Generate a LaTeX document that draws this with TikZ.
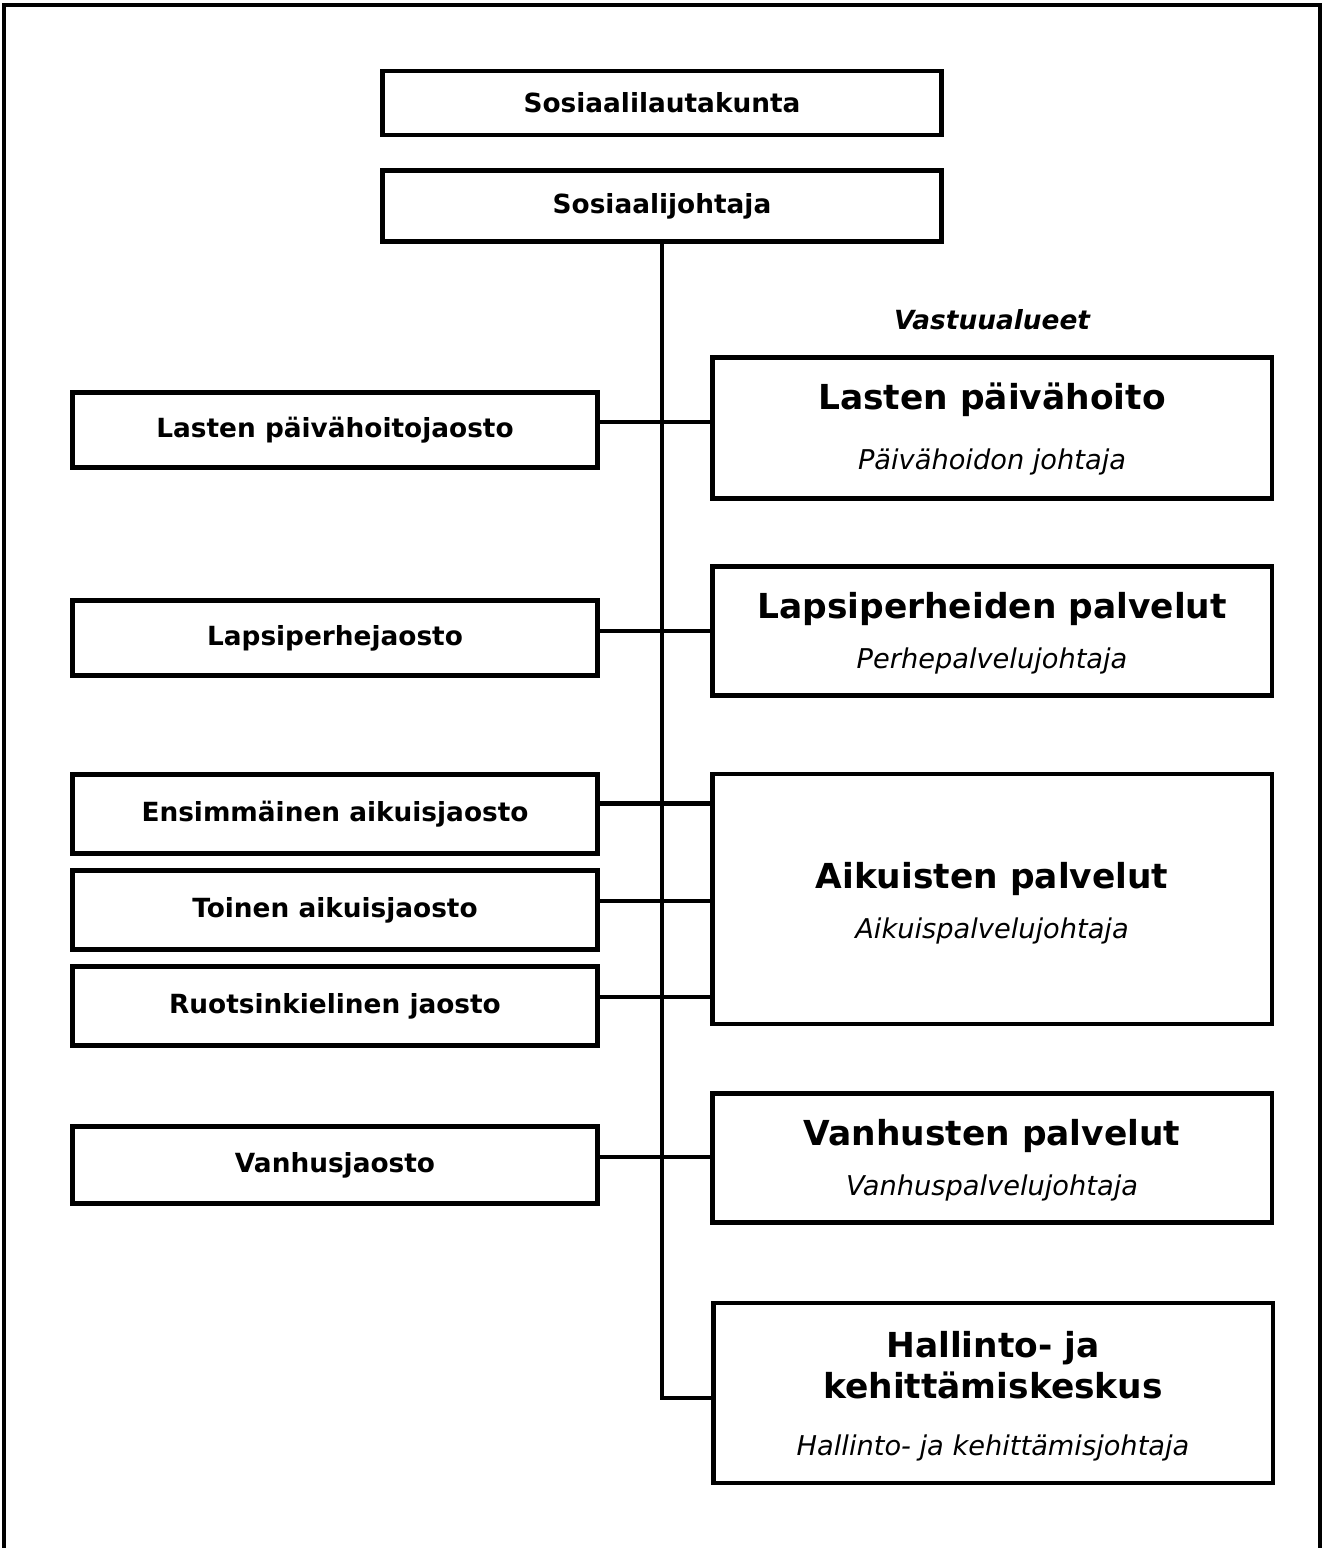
\documentclass[tikz,border=0pt]{standalone}
\usepackage{fontspec}
\setmainfont{DejaVu Sans}
\usetikzlibrary{positioning,calc}

\begin{document}
\begin{tikzpicture}[x=0.02cm,y=-0.02cm,
	box/.style={draw, rectangle, line width=2.8pt, minimum width=10.5cm, minimum height=1.5cm, inner sep=0pt, align=center, font=\fontsize{15}{18}\selectfont\bfseries},
	topbox/.style={box, minimum width=11.2cm},
	areabox/.style={draw, rectangle, line width=2.8pt, minimum width=11.2cm, inner sep=0pt},
	title/.style={align=center, font=\fontsize{19.6}{23.5}\selectfont\bfseries},
	sub/.style={font=\fontsize{15.5}{18}\selectfont\itshape},
	conn/.style={line width=2.4pt}]
	\useasboundingbox (0,0) rectangle (1324,1548);
	\draw[line width=2.8pt] (4,1600) -- (4,5) -- (1320,5) -- (1320,1600);

	% top of the organisation
	\node[topbox, minimum height=1.28cm] (lautakunta) at (662,103) {Sosiaalilautakunta};
	\node[topbox, minimum height=1.42cm] (johtaja) at (662,206) {Sosiaalijohtaja};
	\node[font=\fontsize{15}{18}\selectfont\bfseries\itshape] (vastuu) at (992,320) {Vastuualueet};

	% vastuualueet
	\node[areabox, minimum height=2.82cm] (paiva) at (992,428) {};
	\node[title] (paivaT) at (992,400) {Lasten päivähoito};
	\node[sub] (paivaS) at (992,462) {Päivähoidon johtaja};

	\node[areabox, minimum height=2.58cm] (perhe) at (992,631) {};
	\node[title] (perheT) at (992,609) {Lapsiperheiden palvelut};
	\node[sub] (perheS) at (992,661) {Perhepalvelujohtaja};

	\node[areabox, minimum height=5cm] (aikuis) at (992,899) {};
	\node[title] (aikuisT) at (992,879) {Aikuisten palvelut};
	\node[sub] (aikuisS) at (992,931) {Aikuispalvelujohtaja};

	\node[areabox, minimum height=2.58cm] (vanhus) at (992,1158) {};
	\node[title] (vanhusT) at (992,1136) {Vanhusten palvelut};
	\node[sub] (vanhusS) at (992,1188) {Vanhuspalvelujohtaja};

	\node[areabox, minimum height=3.6cm] (hallinto) at (993,1393) {};
	\node[title] (hallintoT) at (993,1365) {Hallinto- ja\\kehittämiskeskus};
	\node[sub] (hallintoS) at (993,1448) {Hallinto- ja kehittämisjohtaja};

	% jaostot
	\node[box] (lpj) at (335,430) {Lasten päivähoitojaosto};
	\node[box] (lapsi) at (335,638) {Lapsiperhejaosto};
	\node[box, minimum height=1.58cm] (ens) at (335,814) {Ensimmäinen aikuisjaosto};
	\node[box, minimum height=1.58cm] (toinen) at (335,910) {Toinen aikuisjaosto};
	\node[box, minimum height=1.58cm] (ruotsi) at (335,1006) {Ruotsinkielinen jaosto};
	\node[box, minimum height=1.55cm] (vanhusj) at (335,1165) {Vanhusjaosto};

	% connectors
	\draw[conn] (johtaja.south) -- ([yshift=-2.85pt]johtaja.south |- hallinto.west) -- ([yshift=-2.85pt]hallinto.west);
	\draw[conn] ([yshift=4.5pt]lpj.east) -- ([yshift=4.5pt]lpj.east -| paiva.west);
	\draw[conn] ([yshift=4pt]lapsi.east) -- ([yshift=4pt]lapsi.east -| perhe.west);
	\draw[conn] ([yshift=6pt]ens.east) -- ([yshift=6pt]ens.east -| aikuis.west);
	\draw[conn] ([yshift=5pt]toinen.east) -- ([yshift=5pt]toinen.east -| aikuis.west);
	\draw[conn] ([yshift=5pt]ruotsi.east) -- ([yshift=5pt]ruotsi.east -| aikuis.west);
	\draw[conn] ([yshift=4.5pt]vanhusj.east) -- ([yshift=4.5pt]vanhusj.east -| vanhus.west);
\end{tikzpicture}
\end{document}
